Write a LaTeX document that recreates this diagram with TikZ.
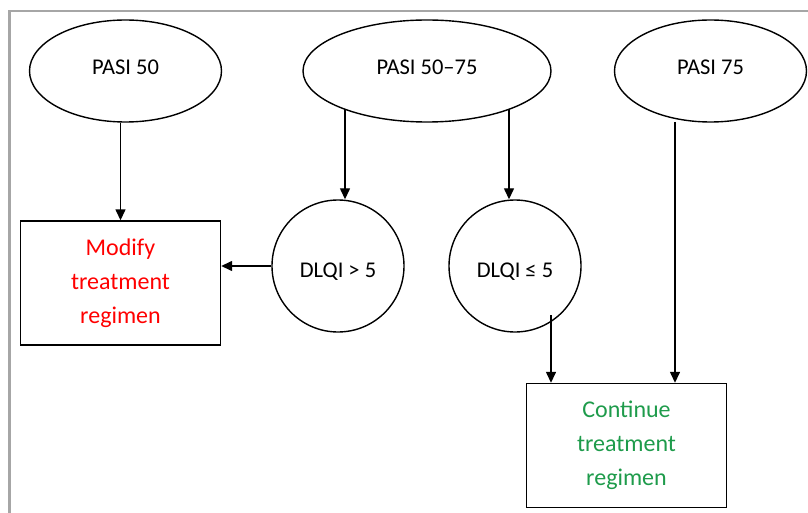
\documentclass[tikz,border=0pt]{standalone}
\usepackage{fontspec}
\setmainfont{Carlito}
\usetikzlibrary{shapes.geometric,arrows.meta}
\definecolor{framegray}{RGB}{166,166,166}
\definecolor{okgreen}{RGB}{30,155,75}
\definecolor{badred}{RGB}{255,0,0}
\begin{document}
\begin{tikzpicture}[x=1pt,y=-1pt,
  every node/.style={font=\fontsize{22.5}{26}\selectfont},
  pasi/.style={draw,ellipse,line width=1.4pt,minimum width=192pt,minimum height=102pt,inner sep=0pt,
    text height=14pt,text depth=7pt},
  dlqi/.style={draw,circle,line width=1.4pt,minimum size=132pt,inner sep=0pt,
    text height=22pt,text depth=0pt},
  action/.style={draw,rectangle,line width=1.4pt,minimum width=200pt,minimum height=124pt,inner sep=0pt,
    align=center,font=\fontsize{24}{34}\selectfont},
  flow/.style={line width=1.4pt,-{Triangle[length=11pt,width=10pt]}}]
\useasboundingbox (0,0) rectangle (808,513);
% page frame
\draw[framegray,line width=2.5pt] (9.5,513) -- (9.5,11) -- (808,11);

% outcome ellipses
\node[pasi] (p50) at (125.5,71) {PASI 50};
\node[pasi,minimum width=248pt] (p5075) at (427,71) {PASI 50–75};
\node[pasi] (p75) at (710.5,71) {PASI 75};

% quality-of-life checks
\node[dlqi] (dhigh) at (338,266) {DLQI > 5};
\node[dlqi] (dlow) at (515,266) {DLQI ≤ 5};

% decisions
\node[action,text=badred] (modify) at (120.5,283) {Modify\\treatment\\regimen};
\node[action,text=okgreen] (cont) at (626.5,445.5) {Continue\\treatment\\regimen};

% connector start points on the shapes
\coordinate (s1) at (345,109);
\coordinate (s2) at (509,109);
\coordinate (s3) at (551,315);
\coordinate (s4) at (675,122);

\draw[flow] (p50.south -| modify.north) -- (modify.north);
\draw[flow] (s1) -- (s1 |- dhigh.north);
\draw[flow] (s2) -- (s2 |- dlow.north);
\draw[flow] (dhigh.west) -- (dhigh.west -| modify.east);
\draw[flow] (s3) -- (s3 |- cont.north);
\draw[flow] (s4) -- (s4 |- cont.north);
\end{tikzpicture}
\end{document}
